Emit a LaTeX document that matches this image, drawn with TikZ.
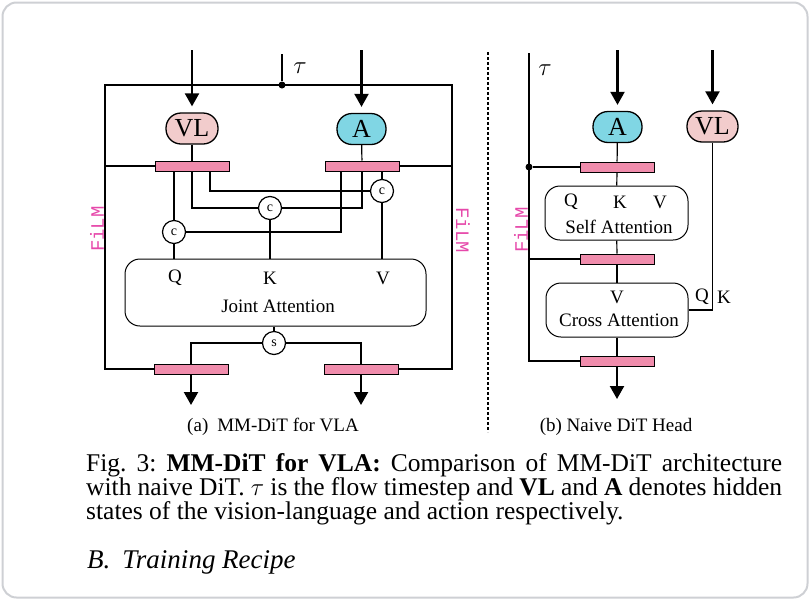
\documentclass[tikz,border=0pt]{standalone}
\usepackage{fontspec}
\setmainfont{Liberation Serif}
\newfontfamily\filmfont{Liberation Mono}
\usetikzlibrary{arrows.meta}
\definecolor{barpink}{RGB}{240,140,172}
\definecolor{vlpink}{RGB}{242,204,204}
\definecolor{acyan}{RGB}{128,214,228}
\definecolor{filmmag}{RGB}{230,72,170}
\definecolor{framegray}{RGB}{206,208,212}
\begin{document}
\begin{tikzpicture}[x=1pt,y=-1pt,
  every node/.style={font=\fontsize{19}{22}\selectfont},
  state/.style={draw,line width=1.3pt,rounded corners=15pt,minimum height=31pt,inner sep=0pt,font=\fontsize{26}{28}\selectfont},
  filmbar/.style={draw,line width=1pt,fill=barpink,minimum width=74pt,minimum height=10pt,inner sep=0pt},
  attn/.style={draw,line width=1pt,rounded corners=15pt,inner sep=0pt},
  op/.style={draw,circle,line width=1.2pt,fill=white,minimum size=23pt,inner sep=0pt,font=\fontsize{14}{16}\selectfont},
  dot/.style={circle,fill,minimum size=7pt,inner sep=0pt},
  flow/.style={line width=2.2pt,-{Triangle[length=13pt,width=14pt]}},
  wire/.style={line width=1.2pt},
  film/.style={text=filmmag,font=\filmfont\fontsize{19}{21}\selectfont},
  tlabel/.style={font=\fontsize{30}{32}\selectfont}]
\useasboundingbox (0,0) rectangle (810,600);
\draw[framegray,line width=2pt,rounded corners=14pt] (2.5,2.5) rectangle (807.5,597.5);

% (a) MM-DiT
\node[state,fill=vlpink,minimum width=52pt] (vla) at (192,128.5) {VL};
\node[state,fill=acyan,minimum width=49pt] (aa) at (361.5,129) {A};
\node[filmbar] (vlin) at (192,166) {};
\node[filmbar] (ain) at (362,166) {};
\node[op] (c1) at (382,191) {c};
\node[op] (c2) at (270,208) {c};
\node[op] (c3) at (174,232) {c};
\node[attn,minimum width=301pt,minimum height=67pt] (joint) at (275.5,292.5) {};
\node (jq) at (175,278) {Q};
\node (jk) at (270,278) {K};
\node (jv) at (383,278) {V};
\node (jname) at (278,306) {Joint Attention};
\node[op] (s) at (274,343) {s};
\node[filmbar] (vlout) at (191,369) {};
\node[filmbar] (aout) at (361,369) {};
\node[dot] (tdot) at (282,85) {};
\node[tlabel] (taua) at (300,68) {$\tau$};
\node[film,rotate=90] (filml) at (97,229) {FiLM};
\node[film,rotate=-90] (filmr) at (463,230) {FiLM};
\node[anchor=base] (capa) at (273,431) {(a)\hspace{9pt}MM-DiT for VLA};
\coordinate (tsrc) at (282,54);
\coordinate (vlsrc) at (192,50);
\coordinate (asrc) at (361.5,50);
\coordinate (vlend) at (191,405);
\coordinate (aend) at (361,405);
\coordinate (tl) at (105,85);
\coordinate (tr) at (452,85);
\draw[flow,shorten >=6pt] (vlsrc) -- (vla);
\draw[flow,shorten >=6pt] (asrc) -- (aa);
\draw[wire] (tsrc) -- (tdot);
\draw[wire] (vlout.west) -| (tl) -- (tr) |- (aout.east);
\draw[wire] (vlin.west) -- (vlin.west -| tl);
\draw[wire] (ain.east) -- (ain.east -| tr);
\draw[wire] (vla) -- (vlin);
\draw[wire] (aa) -- (ain);
\draw[wire] (c3 |- vlin.south) -- (c3);
\draw[wire] (vlin.south) |- (c2);
\draw[wire] ([xshift=18pt]vlin.south) |- (c1);
\draw[wire] ([xshift=-21pt]ain.south) |- (c3);
\draw[wire] (ain.south) |- (c2);
\draw[wire] (c1 |- ain.south) -- (c1);
\draw[wire] (c3) -- (c3 |- joint.north);
\draw[wire] (c2) -- (c2 |- joint.north);
\draw[wire] (c1) -- (c1 |- joint.north);
\draw[wire] (s |- joint.south) -- (s);
\draw[wire] (s) -| (vlout);
\draw[wire] (s) -| (aout);
\draw[flow] (vlout) -- (vlend);
\draw[flow] (aout) -- (aend);

\coordinate (septop) at (488,52);
\coordinate (sepbot) at (488,432);
\draw[line width=1.5pt,dash pattern=on 3pt off 2pt] (septop) -- (sepbot);

% (b) naive DiT head
\node[state,fill=acyan,minimum width=49pt] (ab) at (617.5,127) {A};
\node[state,fill=vlpink,minimum width=51pt] (vlb) at (712.5,126.5) {VL};
\node[filmbar] (bar1) at (617,167) {};
\node[attn,minimum width=143pt,minimum height=54pt] (self) at (616.5,213) {};
\node (sq) at (571,202) {Q};
\node (sk) at (620,202) {K};
\node (sv) at (660,202) {V};
\node (sname) at (619,227) {Self Attention};
\node[filmbar] (bar2) at (617,259) {};
\node[attn,minimum width=142pt,minimum height=54pt] (cross) at (617,310) {};
\node (cv) at (617,297) {V};
\node (cname) at (619,320) {Cross Attention};
\node (xq) at (702,297) {Q};
\node (xk) at (724,297) {K};
\node[filmbar] (bar3) at (617,361) {};
\node[tlabel] (taub) at (545,70) {$\tau$};
\node[film,rotate=90] (filmb) at (521,230) {FiLM};
\node[anchor=base] (capb) at (616,431) {(b) Naive DiT Head};
\node[dot] (tdotb) at (529,167) {};
\coordinate (tsrcb) at (529,53);
\coordinate (absrc) at (617.5,50);
\coordinate (vlbsrc) at (712.5,50);
\coordinate (bend) at (617,399);
\draw[flow,shorten >=6pt] (absrc) -- (ab);
\draw[flow,shorten >=6pt] (vlbsrc) -- (vlb);
\draw[wire] (tsrcb) |- (bar3.west);
\draw[wire] (tdotb) -- (bar1.west);
\draw[wire] (bar2.west -| tsrcb) -- (bar2.west);
\draw[wire] (ab) -- (bar1);
\draw[wire] (bar1) -- (self);
\draw[wire] (self) -- (bar2);
\draw[wire] (bar2) -- (cross);
\draw[wire] (cross) -- (bar3);
\draw[wire] (vlb) |- (cross.east);
\draw[flow] (bar3) -- (bend);

\node[anchor=north west,inner sep=0pt,text width=696pt,align=justify,font=\fontsize{25.5}{24}\selectfont\frenchspacing] (caption) at (86,453) {Fig. 3: \textbf{MM-DiT for VLA:} Comparison of MM-DiT architecture\linebreak with naive DiT. $\tau$ is the flow timestep and \textbf{VL} and \textbf{A} denotes hidden\linebreak states of the vision-language and action respectively.};
\node[anchor=base west,inner sep=0pt,font=\fontsize{27}{24}\selectfont\itshape] (sec) at (87,568) {B.\hspace{12pt}Training Recipe};
\end{tikzpicture}
\end{document}
